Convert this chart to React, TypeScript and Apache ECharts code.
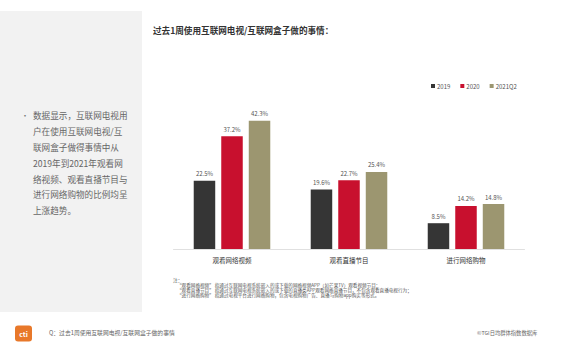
import React, { useEffect, useRef } from "react";
import * as echarts from "echarts";

const categories = ["观看网络视频", "观看直播节目", "进行网络购物"];
const seriesNames = ["2019", "2020", "2021Q2"];
const values2019 = [22.5, 19.6, 8.5];
const values2020 = [37.2, 22.7, 14.2];
const values2021 = [42.3, 25.4, 14.8];
const colors = ["#353535", "#c8102e", "#9c9670"];

const titleText = "过去1周使用互联网电视/互联网盒子做的事情：";
const panelLines = [
  "数据显示，互联网电视用",
  "户在使用互联网电视/互",
  "联网盒子做得事情中从",
  "2019年到2021年观看网",
  "络视频、观看直播节目与",
  "进行网络购物的比例均呈",
  "上涨趋势。",
];
const noteHead = "注：";
const noteLines = [
  "“观看网络视频” 指通过互联网电视系统嵌入的或下载的网络视频APP（如芒果TV）观看视频节目；",
  "“观看直播节目” 指通过互联网电视系统嵌入的或下载的直播类APP观看网络直播节目，不包含观看直播电视行为；",
  "“进行网络购物” 指通过电视平台进行网络购物，包含电视购物广告、直播与购物app购买等形式。",
];
const sourceQ = "Q：过去1周使用互联网电视/互联网盒子做的事情";
const copyright = "©TGI日均群体指数数据库";

const FONT = "'Noto Sans CJK SC', 'Noto Sans', sans-serif";

export default function App() {
  const ref = useRef<HTMLDivElement>(null);
  useEffect(() => {
    document.body.style.margin = "0";
    if (!ref.current) return;
    const chart = echarts.init(ref.current, undefined, { renderer: "svg" });
    const allValues = [values2019, values2020, values2021];
    chart.setOption({
      animation: false,
      backgroundColor: "#ffffff",
      textStyle: { fontFamily: FONT },
      grid: { left: 173.5, right: 53.5, top: 97.3, bottom: 104 },
      legend: {
        left: 431,
        top: 83,
        padding: 0,
        itemWidth: 4,
        itemHeight: 4,
        itemGap: 10,
        icon: "rect",
        textStyle: { fontSize: 6, color: "#555", fontFamily: FONT, padding: [0, 0, 0, -3] },
        data: seriesNames,
      },
      xAxis: {
        type: "category",
        data: categories,
        axisLine: { lineStyle: { color: "#e0e0e0", width: 1 } },
        axisTick: { show: false },
        axisLabel: { fontSize: 6.5, color: "#333", margin: 8, fontFamily: FONT },
      },
      yAxis: {
        type: "value",
        min: 0,
        max: 50,
        show: false,
        splitLine: { show: false },
      },
      series: seriesNames.map((name, i) => ({
        name,
        type: "bar",
        data: allValues[i],
        barWidth: 21.5,
        barGap: "28%",
        itemStyle: { color: colors[i] },
        label: {
          show: true,
          position: "top",
          distance: 4,
          fontSize: 6,
          color: "#555",
          fontFamily: FONT,
          formatter: (p: any) => p.value.toFixed(1) + "%",
        },
      })),
      graphic: [
        {
          type: "rect",
          shape: { x: 0, y: 11, width: 142, height: 301 },
          style: { fill: "#f2f2f2" },
          z: -10,
        },
        {
          type: "text",
          x: 21,
          y: 115,
          style: { text: "•", fontSize: 8, fill: "#777", verticalAlign: "middle", fontFamily: FONT },
        },
        {
          type: "text",
          x: 33,
          y: 107,
          style: {
            text: panelLines.join("\n"),
            fontSize: 8.6,
            lineHeight: 15.9,
            fill: "#666",
            fontFamily: FONT,
            verticalAlign: "top",
          },
        },
        {
          type: "text",
          x: 153,
          y: 30,
          style: {
            text: titleText,
            fontSize: 8.6,
            fontWeight: "bold",
            fill: "#333",
            verticalAlign: "middle",
            fontFamily: FONT,
          },
        },
        {
          type: "text",
          x: 173,
          y: 279.5,
          style: { text: noteHead, fontSize: 4.8, fill: "#555", verticalAlign: "middle", fontFamily: FONT },
        },
        ...noteLines.map((t, i) => ({
          type: "text",
          x: 177,
          y: 285 + i * 5.2,
          style: {
            text: t,
            fontSize: 4.6,
            fill: "#555",
            verticalAlign: "middle",
            fontFamily: FONT,
          },
        })),
        {
          type: "rect",
          shape: { x: 15, y: 325.5, width: 17, height: 16, r: 3 },
          style: { fill: "#e8782a" },
        },
        {
          type: "text",
          x: 23.5,
          y: 334,
          style: {
            text: "cti",
            fontSize: 7,
            fontWeight: "bold",
            fill: "#ffffff",
            align: "center",
            verticalAlign: "middle",
            fontFamily: FONT,
          },
        },
        {
          type: "text",
          x: 49,
          y: 332,
          style: { text: sourceQ, fontSize: 5.8, fill: "#666", verticalAlign: "middle", fontFamily: FONT },
        },
        {
          type: "text",
          x: 477,
          y: 333,
          style: { text: copyright, fontSize: 5.3, fill: "#666", verticalAlign: "middle", fontFamily: FONT },
        },
      ],
    });
    return () => chart.dispose();
  }, []);
  return <div ref={ref} style={{ width: 578, height: 353 }} />;
}
